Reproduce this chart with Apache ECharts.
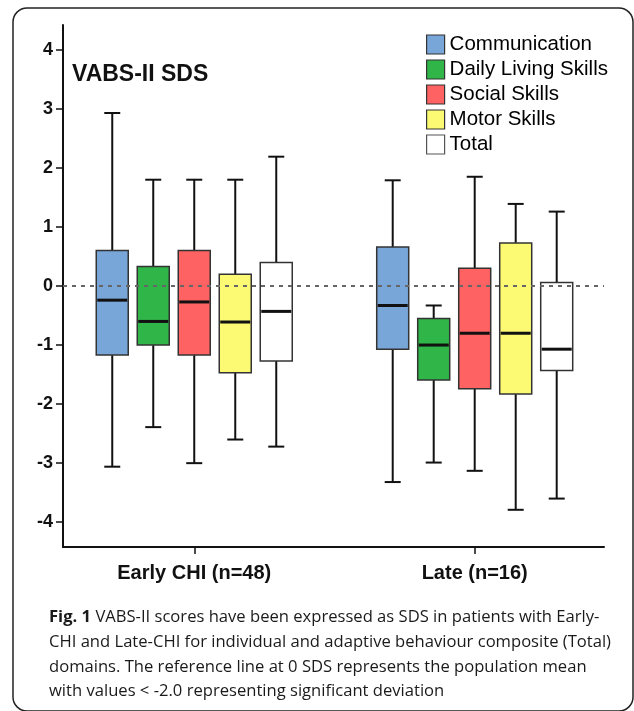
<!DOCTYPE html>
<html><head><meta charset="utf-8">
<script src="https://cdn.jsdelivr.net/npm/echarts@6/dist/echarts.min.js"></script>
<style>html,body{margin:0;padding:0;background:#fff}#c{width:634px;height:711px}</style>
</head><body><div id="c"></div>
<script>
// ---- data ----
const groups = ['Early CHI (n=48)', 'Late (n=16)'];
const domains = ['Communication', 'Daily Living Skills', 'Social Skills', 'Motor Skills', 'Total'];
// each entry: [min, Q1, median, Q3, max] for Early CHI, Late
const communication = [[-3.06, -1.17, -0.24, 0.60, 2.93], [-3.32, -1.07, -0.33, 0.66, 1.79]];
const dailyLiving   = [[-2.39, -1.00, -0.60, 0.33, 1.80], [-2.99, -1.59, -1.00, -0.55, -0.33]];
const social        = [[-3.00, -1.17, -0.27, 0.60, 1.80], [-3.13, -1.74, -0.80, 0.30, 1.85]];
const motor         = [[-2.60, -1.47, -0.61, 0.20, 1.80], [-3.79, -1.83, -0.80, 0.73, 1.39]];
const total         = [[-2.72, -1.27, -0.43, 0.40, 2.19], [-3.60, -1.43, -1.07, 0.06, 1.26]];
const yTicks = [-4, -3, -2, -1, 0, 1, 2, 3, 4];
const referenceValue = 0;

// ---- styles ----
const colors = ['#78a6d8', '#2fb548', '#fe6262', '#fcfa72', '#ffffff'];
const seriesValues = [communication, dailyLiving, social, motor, total];
const BOX_W = 32, BOX_STEP = 41, CAP_W = 16;
const FONT = '"Liberation Sans", Arial, sans-serif';
const CAP_SIZE = 16.6;
const CAP_FONT = CAP_SIZE + 'px "Open Sans", sans-serif';

function makeRender(slot, color) {
  return function (params, api) {
    const g = api.value(0);
    const base = api.coord([g, 0]);
    const cx = base[0] + (slot - 2) * BOX_STEP;
    const py = i => api.coord([g, api.value(i)])[1];
    const yMin = py(1), yQ1 = py(2), yMed = py(3), yQ3 = py(4), yMax = py(5);
    const line = (x1, y1, x2, y2, w) => ({
      type: 'line', shape: { x1, y1, x2, y2 },
      style: { stroke: '#111', lineWidth: w }
    });
    return {
      type: 'group',
      children: [
        line(cx, yQ3, cx, yMax, 2),
        line(cx, yQ1, cx, yMin, 2),
        line(cx - CAP_W / 2, yMax, cx + CAP_W / 2, yMax, 2),
        line(cx - CAP_W / 2, yMin, cx + CAP_W / 2, yMin, 2),
        { type: 'rect', shape: { x: cx - BOX_W / 2, y: yQ3, width: BOX_W, height: yQ1 - yQ3 },
          style: { fill: color, stroke: '#333', lineWidth: 1.5 } },
        line(cx - BOX_W / 2 + 1, yMed, cx + BOX_W / 2 - 1, yMed, 3)
      ]
    };
  };
}

const series = domains.map((name, i) => ({
  name: name,
  type: 'custom',
  xAxisIndex: 0, yAxisIndex: 0,
  itemStyle: { color: colors[i], borderColor: '#333' },
  encode: { x: 0, y: [1, 2, 3, 4, 5] },
  renderItem: makeRender(i, colors[i]),
  data: seriesValues[i].map((v, gi) => [gi].concat(v))
}));
series.push({
  type: 'line', data: [], z: 10, silent: true,
  markLine: {
    silent: true, symbol: 'none', label: { show: false },
    lineStyle: { type: [4, 5], color: '#666', width: 2 },
    data: [{ yAxis: referenceValue }]
  }
});

const chart = echarts.init(document.getElementById('c'), null, { renderer: 'canvas' });
chart.setOption({
  animation: false,
  backgroundColor: '#fff',
  grid: { left: 63, right: 30, top: 25, bottom: 164, containLabel: false, outerBoundsMode: 'none' },
  xAxis: {
    type: 'value', min: -0.468, max: 1.461,
    axisLine: { show: true, onZero: false, lineStyle: { color: '#111', width: 2 } },
    axisTick: { show: true, inside: false, customValues: [0, 1], length: 7, lineStyle: { color: '#111', width: 1.5 } },
    axisLabel: { customValues: [0, 1], formatter: v => groups[Math.round(v)], fontSize: 20, fontWeight: 'bold',
      color: '#111', margin: 16, fontFamily: FONT },
    splitLine: { show: false }
  },
  yAxis: {
    type: 'value', min: -4.42, max: 4.42,
    axisLine: { show: true, onZero: false, lineStyle: { color: '#111', width: 2 } },
    axisTick: { show: true, inside: false, customValues: yTicks, length: 7, lineStyle: { color: '#111', width: 1.5 } },
    axisLabel: { customValues: yTicks, fontSize: 18, fontWeight: 'bold', color: '#111', margin: 10, fontFamily: FONT },
    splitLine: { show: false }
  },
  legend: {
    orient: 'vertical', left: 426, top: 34, padding: 0, itemWidth: 18, itemHeight: 19, itemGap: 4,
    itemTextGap: 4,
    textStyle: { fontSize: 20.5, color: '#000', fontFamily: FONT },
    selectedMode: false,
    data: domains.map((d, i) => ({ name: d, icon: 'rect',
      itemStyle: { color: colors[i], borderColor: i === 4 ? '#555' : '#333', borderWidth: 1.2 } }))
  },
  graphic: [
    { type: 'rect', shape: { x: 13, y: 8, width: 620, height: 703, r: 14 },
      style: { fill: 'none', stroke: '#222', lineWidth: 1.5 }, silent: true },
    { type: 'text', x: 72, y: 75, style: { text: 'VABS-II SDS', font: 'bold 23px ' + FONT, fill: '#111', verticalAlign: 'middle' } },
    { type: 'text', x: 49, y: 617, style: {
        text: '{b|Fig. 1} VABS-II scores have been expressed as SDS in patients with Early-',
        font: CAP_FONT, fill: '#1a1a1a', verticalAlign: 'middle',
        rich: { b: { fontWeight: 'bold', fontSize: CAP_SIZE, fontFamily: '"Open Sans", sans-serif', fill: '#1a1a1a' } } } },
    { type: 'text', x: 49, y: 642, style: {
        text: 'CHI and Late-CHI for individual and adaptive behaviour composite (Total)',
        font: CAP_FONT, fill: '#1a1a1a', verticalAlign: 'middle' } },
    { type: 'text', x: 49, y: 667, style: {
        text: 'domains. The reference line at 0 SDS represents the population mean',
        font: CAP_FONT, fill: '#1a1a1a', verticalAlign: 'middle' } },
    { type: 'text', x: 49, y: 691, style: {
        text: 'with values < -2.0 representing significant deviation',
        font: CAP_FONT, fill: '#1a1a1a', verticalAlign: 'middle' } }
  ],
  series: series
});
</script>
</body></html>
